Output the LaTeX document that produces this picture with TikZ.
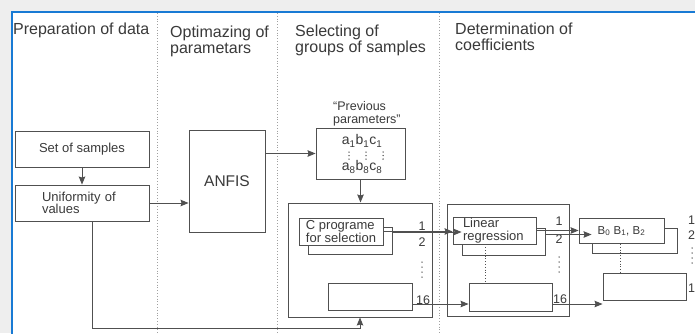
\documentclass[tikz,border=0pt]{standalone}
\usepackage{fontspec}
\setmainfont{Liberation Sans}
\usetikzlibrary{arrows.meta, positioning, calc}
\definecolor{framecolor}{RGB}{24, 122, 212}
\definecolor{edgecolor}{RGB}{80, 80, 80}
\definecolor{inkcolor}{RGB}{58, 58, 58}
\definecolor{outercolor}{RGB}{238, 238, 238}
\definecolor{sepcolor}{RGB}{160, 160, 160}

\begin{document}
\begin{tikzpicture}[
    x=1pt, y=-1pt,
    box/.style={draw=edgecolor, fill=white, line width=0.9pt, inner sep=0pt, font=\fontsize{13}{12.5}\selectfont, text=inkcolor, align=left},
    group/.style={draw=edgecolor, line width=1pt, inner sep=0pt},
    heading/.style={anchor=north west, inner sep=0pt, font=\fontsize{16}{15.5}\selectfont, text=inkcolor, align=left},
    lbl/.style={inner sep=0pt, font=\fontsize{12.5}{12.5}\selectfont, text=inkcolor},
    arr/.style={draw=edgecolor, line width=0.9pt, -{Stealth[length=8pt, width=6.5pt, inset=1pt]}},
    sep/.style={draw=sepcolor, dotted, line width=0.8pt}
]
    \useasboundingbox (0,0) rectangle (695,333);
    % window frame
    \fill[outercolor] (0,0) rectangle (695,333);
    \draw[framecolor, line width=2pt, fill=white] (12,12) rectangle (720,360);

    % column separators
    \draw[sep] (157,13) -- (157,340);
    \draw[sep] (277,13) -- (277,340);
    \draw[sep] (439,13) -- (439,340);

    % column headings
    \node[heading] (hprep) at (13,23) {Preparation of data};
    \node[heading] (hopt) at (170,26) {Optimazing of\\parametars};
    \node[heading] (hsel) at (295,25) {Selecting of\\groups of samples};
    \node[heading] (hdet) at (455,23) {Determination of\\coefficients};

    % Preparation of data
    \node[box, minimum width=134pt, minimum height=36pt, align=center] (samples) at (82,149) {Set of samples};
    \node[box, minimum width=134pt, minimum height=36pt, text width=80pt] (unif) at (82,203) {Uniformity of\\values};

    % Optimazing
    \node[box, minimum width=76pt, minimum height=102pt, font=\fontsize{15.5}{15.5}\selectfont] (anfis) at (227,181) {ANFIS};

    % Previous parameters
    \node[box, minimum width=89pt, minimum height=51pt] (prev) at (360.5,153.5) {};
    \node[lbl, anchor=west, align=left] (prevlbl) at (333,114) {``Previous\\parameters''};
    \node[lbl, font=\fontsize{14}{14}\selectfont] (rowa) at (362,141) {a\textsubscript{1}b\textsubscript{1}c\textsubscript{1}};
    \node[lbl, font=\fontsize{14}{14}\selectfont] (rowb) at (362,167) {a\textsubscript{8}b\textsubscript{8}c\textsubscript{8}};
    \foreach \x in {349,366,383}
        \foreach \y in {152,155.5,159}
            \fill[edgecolor] (\x,\y) circle (0.75pt);

    % Selecting of groups
    \node[group, minimum width=144pt, minimum height=114pt] (sel) at (360,260) {};
    \node[box, minimum width=84pt, minimum height=27pt] (cselb) at (350,240.5) {};
    \node[box, minimum width=84pt, minimum height=27pt] (csel) at (341,231.5) {C programe\\for selection};
    \node[box, minimum width=84pt, minimum height=27pt] (sellast) at (370,296.5) {};

    % Determination of coefficients
    \node[group, minimum width=122pt, minimum height=112pt] (det) at (508,260) {};
    \node[box, minimum width=83pt, minimum height=27pt] (linregb) at (503.5,241.5) {};
    \node[box, minimum width=83pt, minimum height=27pt, text width=63pt] (linreg) at (494.5,230.5) {Linear\\regression};
    \node[box, minimum width=83pt, minimum height=28pt] (linlast) at (510.5,297) {};

    \node[box, minimum width=85pt, minimum height=25pt] (coefb) at (634.5,240.5) {};
    \node[box, minimum width=85pt, minimum height=25pt, align=center, font=\fontsize{11.5}{12}\selectfont] (coef) at (621.5,231) {B\textsubscript{0} B\textsubscript{1}, B\textsubscript{2}};
    \node[box, minimum width=83pt, minimum height=27pt] (coeflast) at (644.5,286.5) {};

    % group labels
    \node[lbl] (sone) at (422,226) {1};
    \node[lbl] (stwo) at (422,242) {2};
    \node[lbl] (slast) at (423,300) {16};
    \node[lbl] (done) at (559,221) {1};
    \node[lbl] (dtwo) at (559,239) {2};
    \node[lbl] (dlast) at (560,299) {16};
    \node[lbl, anchor=west] (cone) at (688,220) {1};
    \node[lbl, anchor=west] (ctwo) at (688,235) {2};
    \node[lbl, anchor=west] (clast) at (688,288) {1};
    \foreach \x/\y in {422/262, 559/257, 692/248}
        \foreach \k in {0,...,3}
            \fill[edgecolor] (\x,\y+\k*5) circle (0.75pt);

    % Connections
    \draw[arr] (samples) -- (unif);
    \draw[arr] (unif.east) -- (unif.east -| anfis.west);
    \draw[arr] (prev.west -| anfis.east) -- (prev.west);
    \draw[arr] (prev.south) -- (prev.south |- sel.north);
    \draw[arr] ([xshift=10pt]unif.south) -- ++(0,107) -| (sel.south);

    \draw[arr] (csel.east) -- (csel.east -| linreg.west);
    \draw[arr] ([yshift=8.5pt]cselb.east) -- ([yshift=8.5pt]cselb.east -| linregb.west);
    \draw[arr] ([yshift=-7.5pt]sellast.east) -- ([yshift=-7.5pt]sellast.east -| linlast.west);

    \draw[arr] (linreg.east) -- (linreg.east -| coef.west);
    \draw[arr] ([yshift=7pt]linregb.east) -- ([yshift=7pt]linregb.east -| coefb.west);
    \draw[arr] ([yshift=-7pt]linlast.east) -- ([yshift=-7pt]linlast.east -| coeflast.west);

    \draw[sep, draw=edgecolor] ([xshift=-9.5pt]linreg.south) -- ([xshift=-9.5pt]linreg.south |- linlast.north);
    \draw[sep, draw=edgecolor] ([xshift=-1.5pt]coef.south) -- ([xshift=-1.5pt]coef.south |- coeflast.north);

\end{tikzpicture}
\end{document}
